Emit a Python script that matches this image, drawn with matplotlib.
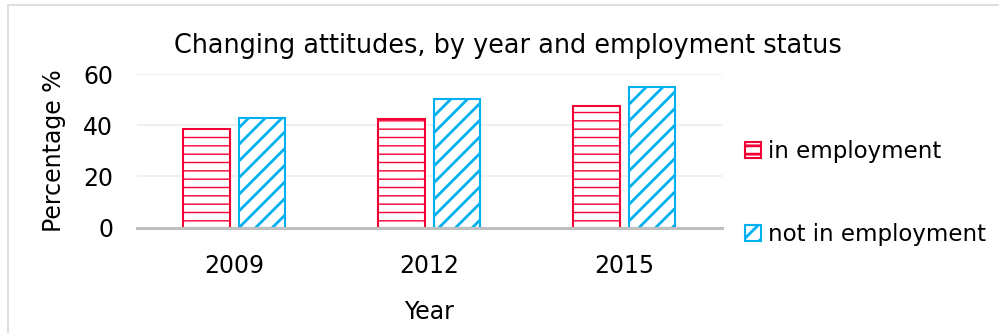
import numpy as np
import matplotlib
matplotlib.use("Agg")
import matplotlib.pyplot as plt
from matplotlib.patches import Patch
from matplotlib.lines import Line2D

years = ["2009", "2012", "2015"]
in_employment = [38.4, 42.4, 47.6]
not_in_employment = [42.9, 50.3, 54.8]
series_names = ["in employment", "not in employment"]

red = "#F50035"
blue = "#00B0F0"

plt.rcParams["font.family"] = ["DejaVu Sans"]

fig = plt.figure(figsize=(9.99, 3.33), dpi=100)
ax = fig.add_axes([136.7 / 999, 1 - 227.7 / 333, 585 / 999, (227.7 - 74) / 333])

x = np.arange(len(years))
w = 0.24
gap = 0.045

def hatch_lw(bars, lw):
    for b in bars:
        if hasattr(b, "set_hatch_linewidth"):
            b.set_hatch_linewidth(lw)

plt.rcParams["hatch.color"] = red
plt.rcParams["hatch.linewidth"] = 1.0
b1 = ax.bar(x - (w + gap) / 2, in_employment, w, facecolor="white",
            edgecolor=red, hatch="--", linewidth=1.5, zorder=3)
hatch_lw(b1, 1.0)
plt.rcParams["hatch.linewidth"] = 2.0
b2 = ax.bar(x + (w + gap) / 2, not_in_employment, w, facecolor="white",
            edgecolor=blue, hatch="//", linewidth=1.5, zorder=3)
hatch_lw(b2, 2.0)

ax.set_xlim(-0.5, 2.5)
ax.set_ylim(0, 60)
ax.set_yticks([0, 20, 40, 60])
ax.set_xticks(x)
ax.set_xticklabels(years)
ax.tick_params(axis="both", length=0, labelsize=17)
ax.tick_params(axis="y", pad=17)
ax.tick_params(axis="x", pad=19)
ax.yaxis.grid(True, color="#EFEFEF", linewidth=1.5, zorder=0)
ax.set_axisbelow(True)
for s in ["top", "right", "left"]:
    ax.spines[s].set_visible(False)
ax.spines["bottom"].set_color("#BFBFBF")
ax.spines["bottom"].set_linewidth(2.2)
ax.spines["bottom"].set_zorder(4)

ax.set_ylabel("Percentage %", fontsize=17, labelpad=12)
ax.set_xlabel("Year", fontsize=17, labelpad=16)

fig.text(508 / 999, 1 - 46 / 333, "Changing attitudes, by year and employment status",
         fontsize=18.4, ha="center", va="center")

handles = [Patch(facecolor="white", edgecolor=red, hatch="--", linewidth=1.5),
           Patch(facecolor="white", edgecolor=blue, hatch="//", linewidth=1.5)]
fig.legend(handles, series_names, loc="upper left",
           bbox_to_anchor=(736 / 999, 1 - 131 / 333), frameon=False,
           fontsize=16.5, handlelength=0.7, handleheight=0.7,
           handletextpad=0.3, labelspacing=2.6, borderaxespad=0)

# thin frame around the chart area
fig.add_artist(Line2D([7.5 / 999, 7.5 / 999], [0, 1 - 5 / 333],
                      transform=fig.transFigure, color="#D9D9D9", lw=1.2))
fig.add_artist(Line2D([7.5 / 999, 1], [1 - 5 / 333, 1 - 5 / 333],
                      transform=fig.transFigure, color="#D9D9D9", lw=1.2))

fig.savefig("out.png", dpi=100)
